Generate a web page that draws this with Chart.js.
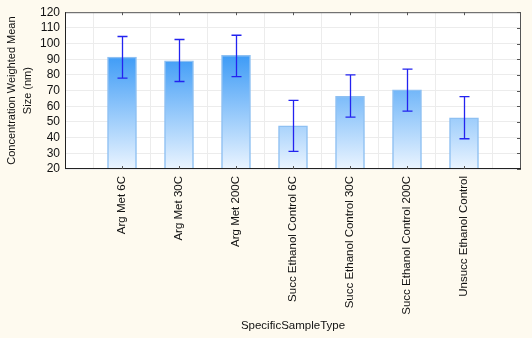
<!DOCTYPE html>
<html>
<head>
<meta charset="utf-8">
<script src="https://cdn.jsdelivr.net/npm/chart.js@4"></script>
<style>
html,body{margin:0;padding:0;background:#fefaef;}
#wrap{width:532px;height:338px;position:relative;}
</style>
</head>
<body>
<div id="wrap"><canvas id="c" width="532" height="338"></canvas></div>
<script>
const categories = ['Arg Met 6C','Arg Met 30C','Arg Met 200C','Succ Ethanol Control 6C','Succ Ethanol Control 30C','Succ Ethanol Control 200C','Unsucc Ethanol Control'];
const means = [91.3, 89.0, 92.5, 47.5, 66.3, 70.5, 52.7];
const errUpper = [104.5, 102.6, 105.3, 63.8, 80.0, 83.7, 66.1];
const errLower = [77.9, 75.8, 78.9, 31.3, 53.1, 56.9, 39.3];
const yTicks = [20,30,40,50,60,70,80,90,100,110,120];

const labels = [''].concat(categories, ['']);
const data = [null].concat(means, [null]);

const FONT = 'Liberation Sans, Arial, sans-serif';

function barGradient(ctx){
  const chart = ctx.chart;
  const a = chart.chartArea;
  if(!a) return '#4aa3f7';
  const y = chart.scales.y;
  const g = chart.ctx.createLinearGradient(0, y.getPixelForValue(95), 0, a.bottom);
  g.addColorStop(0, '#3898f6');
  g.addColorStop(0.45, '#88c2fa');
  g.addColorStop(1, '#eaf4ff');
  return g;
}

const framePlugin = {
  id:'frame',
  beforeDraw(chart){
    const {ctx, chartArea:a} = chart;
    ctx.save();
    ctx.fillStyle = '#ffffff';
    ctx.fillRect(a.left, a.top, a.right-a.left, a.bottom-a.top);
    ctx.restore();
  },
  afterDatasetsDraw(chart){
    const {ctx, chartArea:a, scales} = chart;
    const x = scales.x, y = scales.y;
    ctx.save();
    ctx.strokeStyle = '#2323f0';
    ctx.lineWidth = 1.3;
    for(let i=0;i<means.length;i++){
      const px = Math.round(x.getPixelForValue(i+1)) + 0.5;
      const t = y.getPixelForValue(errUpper[i]);
      const b = y.getPixelForValue(errLower[i]);
      ctx.beginPath();
      ctx.moveTo(px, t); ctx.lineTo(px, b);
      ctx.moveTo(px-5, t); ctx.lineTo(px+5, t);
      ctx.moveTo(px-5, b); ctx.lineTo(px+5, b);
      ctx.stroke();
    }
    ctx.strokeStyle = '#555555';
    ctx.lineWidth = 1;
    ctx.beginPath();
    ctx.moveTo(a.left, a.top+0.5); ctx.lineTo(a.right, a.top+0.5);
    ctx.moveTo(a.right-0.5, a.top); ctx.lineTo(a.right-0.5, a.bottom);
    ctx.stroke();
    ctx.strokeStyle = '#222222';
    ctx.beginPath();
    ctx.moveTo(a.left, a.bottom-0.5); ctx.lineTo(a.right, a.bottom-0.5);
    ctx.moveTo(a.left+0.5, a.top); ctx.lineTo(a.left+0.5, a.bottom);
    ctx.stroke();
    ctx.strokeStyle = '#555555';
    ctx.beginPath();
    yTicks.forEach(v=>{
      const py = Math.round(y.getPixelForValue(v))+0.5;
      ctx.moveTo(a.right-4, py); ctx.lineTo(a.right, py);
    });
    for(let i=1;i<=categories.length;i++){
      const px = Math.round(x.getPixelForValue(i))+0.5;
      ctx.moveTo(px, a.top); ctx.lineTo(px, a.top+3);
      ctx.moveTo(px, a.bottom); ctx.lineTo(px, a.bottom-3);
    }
    ctx.stroke();
    ctx.restore();
  }
};

new Chart(document.getElementById('c'), {
  type:'bar',
  data:{
    labels: labels,
    datasets:[{
      data: data,
      backgroundColor: barGradient,
      borderColor: '#8ec0f2',
      borderWidth: 1.5,
      borderSkipped: 'bottom',
      barThickness: 29
    }]
  },
  options:{
    responsive:false,
    animation:false,
    events:[],
    layout:{padding:{top:1, right:11, left:0, bottom:0}},
    plugins:{legend:{display:false}, tooltip:{enabled:false}},
    scales:{
      x:{
        offset:false,
        grid:{color:'#ececec', drawTicks:false, drawOnChartArea:true},
        border:{display:false},
        ticks:{
          autoSkip:false, maxRotation:90, minRotation:90, padding:7,
          color:'#111', font:{family:FONT, size:11.5}
        },
        title:{display:true, text:'SpecificSampleType', color:'#111', font:{family:FONT, size:11.5}, padding:{top:4, bottom:5}},
        afterFit(s){ s.height = 169; s.paddingRight = 0; s.paddingLeft = 0; }
      },
      y:{
        min:20, max:120,
        afterBuildTicks(s){ s.ticks = yTicks.map(v=>({value:v})); },
        grid:{color:'#ececec', drawTicks:false},
        border:{display:false},
        ticks:{autoSkip:false, padding:5, color:'#111', font:{family:FONT, size:12}},
        title:{display:true, text:['Concentration Weighted Mean','Size (nm)'], color:'#111', font:{family:FONT, size:11, lineHeight:1.45}, padding:{top:4, bottom:4}},
        afterFit(s){ s.width = 65; }
      }
    }
  },
  plugins:[framePlugin]
});
</script>
</body>
</html>
